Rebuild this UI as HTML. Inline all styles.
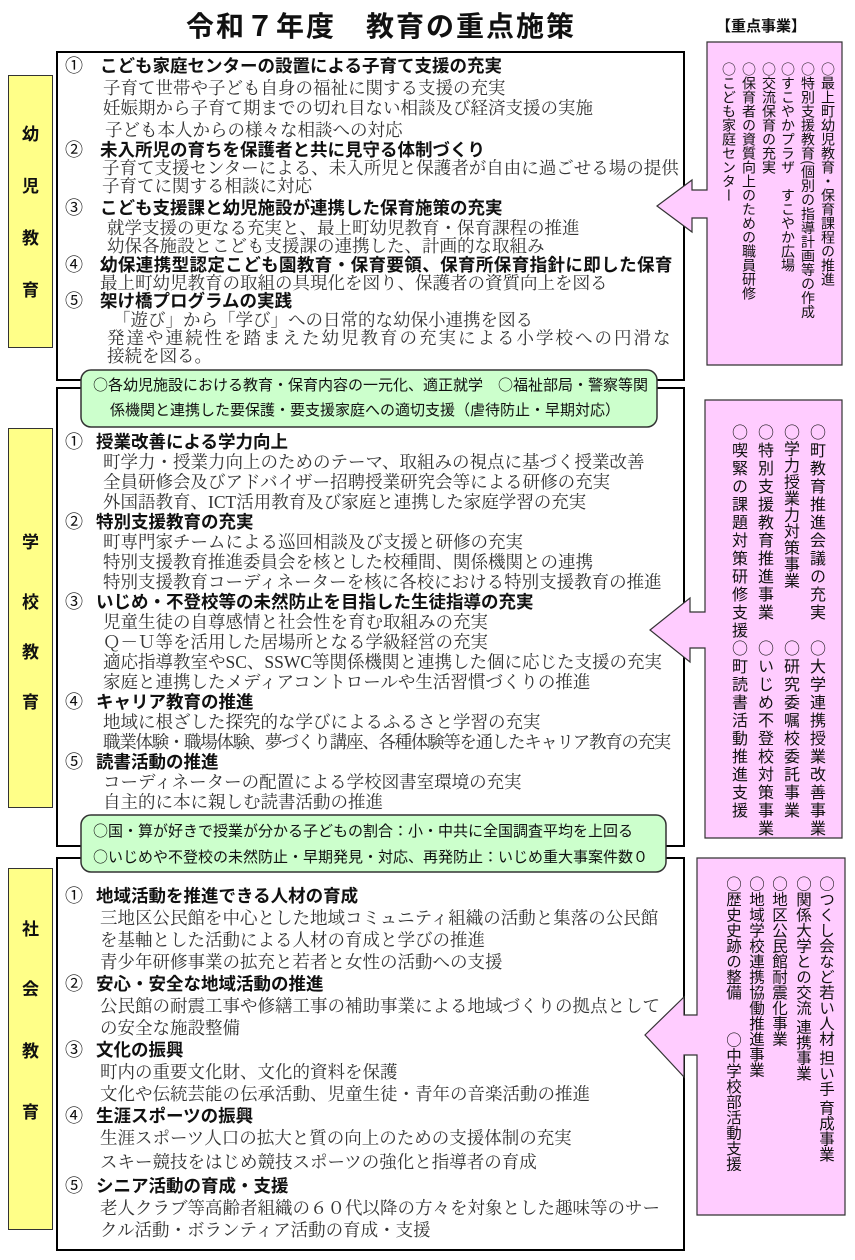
<!DOCTYPE html>
<html><head><meta charset="utf-8">
<style>
body{margin:0;width:855px;height:1260px;background:#fff;position:relative;overflow:hidden;font-family:"Liberation Sans","Noto Sans CJK JP",sans-serif;}
.a{position:absolute;white-space:nowrap;}
.h{font-family:"Liberation Sans","Noto Sans CJK JP",sans-serif;font-weight:bold;font-size:17.5px;color:#111;line-height:20px;}
.b{font-family:"Liberation Serif","Noto Serif CJK JP",serif;font-size:17.5px;color:#333;line-height:20px;}
.n{font-family:"Liberation Sans","Noto Sans CJK JP",sans-serif;font-size:18px;color:#111;line-height:20px;}
.g{font-family:"Noto Sans CJK JP",sans-serif;font-size:15px;color:#111;line-height:18px;}
.y{position:absolute;left:8px;width:45px;background:#ffff88;border:1px solid #333;box-sizing:border-box;}
.yc{position:absolute;width:45px;text-align:center;font-size:17px;font-weight:bold;color:#111;}
.v{position:absolute;writing-mode:vertical-rl;white-space:nowrap;color:#111;font-family:"Noto Sans CJK JP",sans-serif;}
</style></head><body>
<svg width="855" height="1260" style="position:absolute;left:0;top:0">
<rect x="57" y="52" width="627" height="328" fill="#fff" stroke="#000" stroke-width="2"/>
<rect x="57" y="388" width="627" height="458" fill="#fff" stroke="#000" stroke-width="2"/>
<rect x="57" y="858" width="627" height="392" fill="#fff" stroke="#000" stroke-width="2"/>
<rect x="81" y="370" width="576" height="57" rx="10" fill="#ccffcc" stroke="#333" stroke-width="1.5"/>
<rect x="81" y="815" width="585" height="57" rx="10" fill="#ccffcc" stroke="#333" stroke-width="1.5"/>
<path d="M707,42 H842 V365 H707 V218 H692 V232 L657,206 L692,180 V190 H707 Z" fill="#ffccff" stroke="#333" stroke-width="1.2"/>
<path d="M705,400 H842 V838 H705 V648 H690 V662 L650,630 L690,598 V612 H705 Z" fill="#ffccff" stroke="#333" stroke-width="1.2"/>
<path d="M697,858 H845 V1215 H697 V1055 H684 V1077 L645,1035 L684,997 V1015 H697 Z" fill="#ffccff" stroke="#333" stroke-width="1.2"/>
</svg>
<div class="a" style="left:186px;top:5px;font-size:28px;letter-spacing:2px;color:#111;font-weight:bold;">令和７年度　教育の重点施策</div>
<div class="a" style="left:716px;top:15px;font-size:15px;color:#111;font-weight:bold;font-family:'Noto Sans CJK JP',sans-serif;">【重点事業】</div>

<div class="y" style="top:75px;height:273px"></div>
<div class="yc" style="left:8px;top:120px">幼</div><div class="yc" style="left:8px;top:172px">児</div><div class="yc" style="left:8px;top:224px">教</div><div class="yc" style="left:8px;top:276px">育</div>
<div class="y" style="top:428px;height:380px"></div>
<div class="yc" style="left:8px;top:528px">学</div><div class="yc" style="left:8px;top:588px">校</div><div class="yc" style="left:8px;top:638px">教</div><div class="yc" style="left:8px;top:688px">育</div>
<div class="y" style="top:868px;height:362px"></div>
<div class="yc" style="left:8px;top:915px">社</div><div class="yc" style="left:8px;top:975px">会</div><div class="yc" style="left:8px;top:1037px">教</div><div class="yc" style="left:8px;top:1098px">育</div>

<!-- box1 -->
<div class="a n" style="left:65px;top:56px">①</div><div class="a h" style="left:100px;top:56px">こども家庭センターの設置による子育て支援の充実</div>
<div class="a b" style="left:103px;top:78px">子育て世帯や子ども自身の福祉に関する支援の充実</div>
<div class="a b" style="left:103px;top:98px">妊娠期から子育て期までの切れ目ない相談及び経済支援の実施</div>
<div class="a b" style="left:105px;top:120px">子ども本人からの様々な相談への対応</div>
<div class="a n" style="left:65px;top:140px">②</div><div class="a h" style="left:100px;top:140px">未入所児の育ちを保護者と共に見守る体制づくり</div>
<div class="a b" style="left:102px;top:158px">子育て支援センターによる、未入所児と保護者が自由に過ごせる場の提供</div>
<div class="a b" style="left:102px;top:176px">子育てに関する相談に対応</div>
<div class="a n" style="left:65px;top:198px">③</div><div class="a h" style="left:100px;top:198px">こども支援課と幼児施設が連携した保育施策の充実</div>
<div class="a b" style="left:107px;top:218px">就学支援の更なる充実と、最上町幼児教育・保育課程の推進</div>
<div class="a b" style="left:107px;top:236px">幼保各施設とこども支援課の連携した、計画的な取組み</div>
<div class="a n" style="left:65px;top:255px">④</div><div class="a h" style="left:100px;top:255px;letter-spacing:0.4px">幼保連携型認定こども園教育・保育要領、保育所保育指針に即した保育</div>
<div class="a b" style="left:100px;top:273px">最上町幼児教育の取組の具現化を図り、保護者の資質向上を図る</div>
<div class="a n" style="left:65px;top:291px">⑤</div><div class="a h" style="left:100px;top:291px">架け橋プログラムの実践</div>
<div class="a b" style="left:113px;top:310px">「遊び」から「学び」への日常的な幼保小連携を図る</div>
<div class="a b" style="left:107px;top:328px;letter-spacing:2px">発達や連続性を踏まえた幼児教育の充実による小学校への円滑な</div>
<div class="a b" style="left:107px;top:346px">接続を図る。</div>

<div class="a g" style="left:93px;top:376px">○各幼児施設における教育・保育内容の一元化、適正就学　○福祉部局・警察等関</div>
<div class="a g" style="left:110px;top:401px">係機関と連携した要保護・要支援家庭への適切支援（虐待防止・早期対応）</div>

<!-- box2 -->
<div class="a n" style="left:65px;top:432px">①</div><div class="a h" style="left:96px;top:432px">授業改善による学力向上</div>
<div class="a b" style="left:103px;top:452px">町学力・授業力向上のためのテーマ、取組みの視点に基づく授業改善</div>
<div class="a b" style="left:103px;top:472px">全員研修会及びアドバイザー招聘授業研究会等による研修の充実</div>
<div class="a b" style="left:103px;top:492px">外国語教育、ICT活用教育及び家庭と連携した家庭学習の充実</div>
<div class="a n" style="left:65px;top:512px">②</div><div class="a h" style="left:96px;top:512px">特別支援教育の充実</div>
<div class="a b" style="left:103px;top:532px">町専門家チームによる巡回相談及び支援と研修の充実</div>
<div class="a b" style="left:103px;top:552px">特別支援教育推進委員会を核とした校種間、関係機関との連携</div>
<div class="a b" style="left:103px;top:572px">特別支援教育コーディネーターを核に各校における特別支援教育の推進</div>
<div class="a n" style="left:65px;top:592px">③</div><div class="a h" style="left:96px;top:592px">いじめ・不登校等の未然防止を目指した生徒指導の充実</div>
<div class="a b" style="left:103px;top:612px">児童生徒の自尊感情と社会性を育む取組みの充実</div>
<div class="a b" style="left:103px;top:632px">Ｑ－Ｕ等を活用した居場所となる学級経営の充実</div>
<div class="a b" style="left:103px;top:652px">適応指導教室やSC、SSWC等関係機関と連携した個に応じた支援の充実</div>
<div class="a b" style="left:103px;top:672px">家庭と連携したメディアコントロールや生活習慣づくりの推進</div>
<div class="a n" style="left:65px;top:692px">④</div><div class="a h" style="left:96px;top:692px">キャリア教育の推進</div>
<div class="a b" style="left:103px;top:712px">地域に根ざした探究的な学びによるふるさと学習の充実</div>
<div class="a b" style="left:103px;top:732px;letter-spacing:-1.3px">職業体験・職場体験、夢づくり講座、各種体験等を通したキャリア教育の充実</div>
<div class="a n" style="left:65px;top:752px">⑤</div><div class="a h" style="left:96px;top:752px">読書活動の推進</div>
<div class="a b" style="left:103px;top:772px">コーディネーターの配置による学校図書室環境の充実</div>
<div class="a b" style="left:103px;top:792px">自主的に本に親しむ読書活動の推進</div>

<div class="a g" style="left:93px;top:822px">○国・算が好きで授業が分かる子どもの割合：小・中共に全国調査平均を上回る</div>
<div class="a g" style="left:93px;top:848px">○いじめや不登校の未然防止・早期発見・対応、再発防止：いじめ重大事案件数０</div>

<!-- box3 -->
<div class="a n" style="left:65px;top:886px">①</div><div class="a h" style="left:96px;top:886px">地域活動を推進できる人材の育成</div>
<div class="a b" style="left:100px;top:908px">三地区公民館を中心とした地域コミュニティ組織の活動と集落の公民館</div>
<div class="a b" style="left:100px;top:930px">を基軸とした活動による人材の育成と学びの推進</div>
<div class="a b" style="left:100px;top:952px">青少年研修事業の拡充と若者と女性の活動への支援</div>
<div class="a n" style="left:65px;top:974px">②</div><div class="a h" style="left:96px;top:974px">安心・安全な地域活動の推進</div>
<div class="a b" style="left:100px;top:996px">公民館の耐震工事や修繕工事の補助事業による地域づくりの拠点として</div>
<div class="a b" style="left:100px;top:1018px">の安全な施設整備</div>
<div class="a n" style="left:65px;top:1040px">③</div><div class="a h" style="left:96px;top:1040px">文化の振興</div>
<div class="a b" style="left:100px;top:1062px">町内の重要文化財、文化的資料を保護</div>
<div class="a b" style="left:100px;top:1084px">文化や伝統芸能の伝承活動、児童生徒・青年の音楽活動の推進</div>
<div class="a n" style="left:65px;top:1106px">④</div><div class="a h" style="left:96px;top:1106px">生涯スポーツの振興</div>
<div class="a b" style="left:100px;top:1128px">生涯スポーツ人口の拡大と質の向上のための支援体制の充実</div>
<div class="a b" style="left:100px;top:1152px">スキー競技をはじめ競技スポーツの強化と指導者の育成</div>
<div class="a n" style="left:65px;top:1176px">⑤</div><div class="a h" style="left:96px;top:1176px">シニア活動の育成・支援</div>
<div class="a b" style="left:100px;top:1198px">老人クラブ等高齢者組織の６０代以降の方々を対象とした趣味等のサー</div>
<div class="a b" style="left:100px;top:1220px">クル活動・ボランティア活動の育成・支援</div>

<!-- pink1 -->
<div class="v" style="left:819px;top:62px;font-size:14px;line-height:18px">○最上町幼児教育・保育課程の推進</div>
<div class="v" style="left:799px;top:62px;font-size:14px;line-height:18px">○特別支援教育(個別の指導計画等の作成</div>
<div class="v" style="left:779px;top:62px;font-size:14px;line-height:18px">○すこやかプラザ　すこやか広場</div>
<div class="v" style="left:760px;top:62px;font-size:14px;line-height:18px">○交流保育の充実</div>
<div class="v" style="left:740px;top:62px;font-size:14px;line-height:18px">○保育者の資質向上のための職員研修</div>
<div class="v" style="left:720px;top:62px;font-size:14px;line-height:18px">○こども家庭センター</div>

<!-- pink2 -->
<div class="v" style="left:809px;top:424px;font-size:16px;line-height:18px;letter-spacing:2px">○町教育推進会議の充実</div>
<div class="v" style="left:783px;top:424px;font-size:16px;line-height:18px;letter-spacing:0.5px">○学力授業力対策事業</div>
<div class="v" style="left:757px;top:424px;font-size:16px;line-height:18px;letter-spacing:2px">○特別支援教育推進事業</div>
<div class="v" style="left:731px;top:424px;font-size:16px;line-height:18px;letter-spacing:2px">○喫緊の課題対策研修支援</div>
<div class="v" style="left:809px;top:640px;font-size:16px;line-height:18px;letter-spacing:2px">○大学連携授業改善事業</div>
<div class="v" style="left:783px;top:640px;font-size:16px;line-height:18px;letter-spacing:2px">○研究委嘱校委託事業</div>
<div class="v" style="left:757px;top:640px;font-size:16px;line-height:18px;letter-spacing:2px">○いじめ不登校対策事業</div>
<div class="v" style="left:731px;top:640px;font-size:16px;line-height:18px;letter-spacing:2px">○町読書活動推進支援</div>

<!-- pink3 -->
<div class="v" style="left:818px;top:876px;font-size:15.5px;line-height:18px">○つくし会など若い人材 担い手 育成事業</div>
<div class="v" style="left:795px;top:876px;font-size:15.5px;line-height:18px">○関係大学との交流 連携事業</div>
<div class="v" style="left:771px;top:876px;font-size:15.5px;line-height:18px">○地区公民館耐震化事業</div>
<div class="v" style="left:748px;top:876px;font-size:15.5px;line-height:18px">○地域学校連携協働推進事業</div>
<div class="v" style="left:725px;top:876px;font-size:15.5px;line-height:18px">○歴史史跡の整備</div>
<div class="v" style="left:725px;top:1032px;font-size:15.5px;line-height:18px">○中学校部活動支援</div>
</body></html>
